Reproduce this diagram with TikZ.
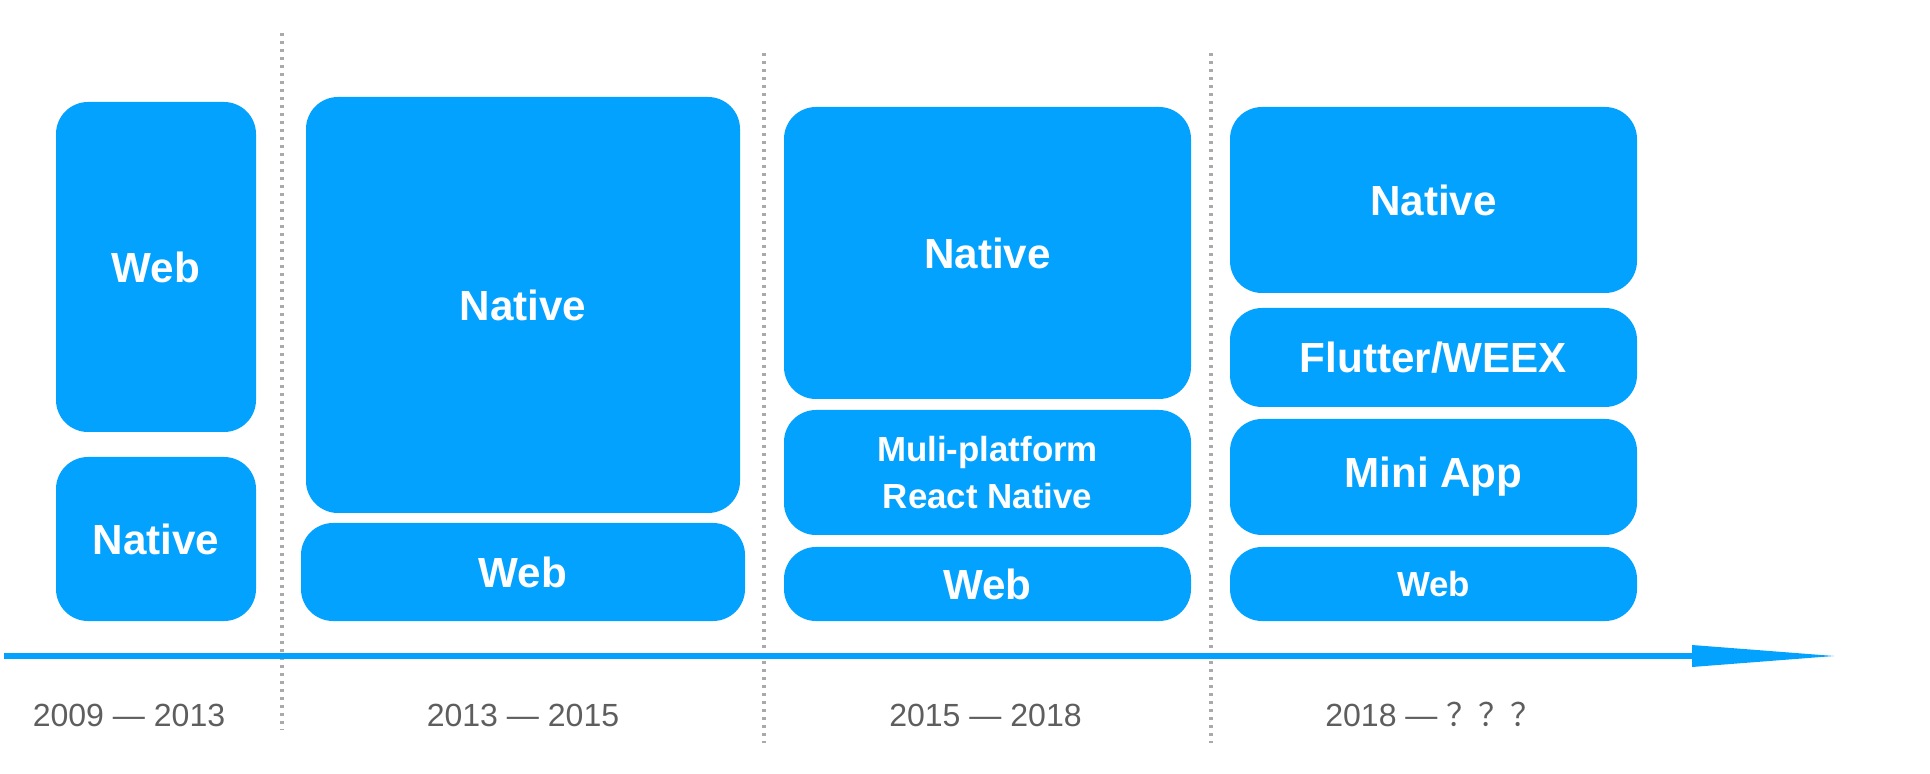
\documentclass[tikz,border=0pt]{standalone}
\usepackage{fontspec}
\setmainfont{Liberation Sans}
\newfontfamily\cjkfont{Noto Sans CJK SC}
\definecolor{appblue}{RGB}{3,162,254}
\definecolor{sepgray}{RGB}{170,170,170}
\definecolor{yeargray}{RGB}{94,94,94}

\begin{document}
\begin{tikzpicture}[line join=round,
    box/.style={fill=appblue, text=white, rounded corners=0.8cm, inner sep=0pt,
      align=center, font=\bfseries\fontsize{30}{36}\selectfont},
    smallbox/.style={box, font=\bfseries\fontsize{24.8}{33.4}\selectfont},
    sep/.style={sepgray, line width=2.35pt, dash pattern=on 2.35pt off 3.34pt},
    year/.style={yeargray, anchor=base, inner sep=0pt, font=\fontsize{22.8}{27}\selectfont}]
  \useasboundingbox (0,0) rectangle (48.25,-19.35);
  % 2009 -- 2013
  \begin{scope}[xshift=3.9cm]
    \node[box, minimum width=5cm, minimum height=8.25cm] (aWeb) at (0,-6.675) {Web};
    \node[box, minimum width=5cm, minimum height=4.1cm] (aNat) at (0,-13.475) {Native};
    \node[year] (aYear) at (-0.675,-18.15) {2009 — 2013};
  \end{scope}
  % 2013 -- 2015
  \begin{scope}[xshift=13.075cm]
    \node[box, minimum width=10.85cm, minimum height=10.4cm] (bNat) at (0,-7.625) {Native};
    \node[box, minimum width=11.1cm, minimum height=2.45cm] (bWeb) at (0,-14.3) {Web};
    \node[year] (bYear) at (0,-18.15) {2013 — 2015};
  \end{scope}
  % 2015 -- 2018
  \begin{scope}[xshift=24.6875cm]
    \node[box, minimum width=10.175cm, minimum height=7.3cm] (cNat) at (0,-6.325) {Native};
    \node[smallbox, minimum width=10.175cm, minimum height=3.125cm] (cMulti) at (0,-11.8125) {Muli-platform\\React Native};
    \node[box, minimum width=10.175cm, minimum height=1.85cm] (cWeb) at (0,-14.6) {Web};
    \node[year] (cYear) at (-0.05,-18.15) {2015 — 2018};
  \end{scope}
  % 2018 -- ???
  \begin{scope}[xshift=35.8375cm]
    \node[box, minimum width=10.175cm, minimum height=4.65cm] (dNat) at (0,-5.0) {Native};
    \node[box, minimum width=10.175cm, minimum height=2.475cm] (dFlut) at (0,-8.9375) {Flutter/WEEX};
    \node[box, minimum width=10.175cm, minimum height=2.9cm] (dMini) at (0,-11.925) {Mini App};
    \node[smallbox, minimum width=10.175cm, minimum height=1.85cm] (dWeb) at (0,-14.6) {Web};
    \node[year, anchor=base west] (dYear) at (-2.7125,-18.15) {2018 — {\cjkfont ？？？}};
  \end{scope}
  % separators
  \coordinate (s1t) at (7.05,-0.825);  \coordinate (s1b) at (7.05,-18.25);
  \coordinate (s2t) at (19.1,-1.325);  \coordinate (s2b) at (19.1,-18.575);
  \coordinate (s3t) at (30.275,-1.325); \coordinate (s3b) at (30.275,-18.575);
  \draw[sep] (s1t) -- (s1b);
  \draw[sep] (s2t) -- (s2b);
  \draw[sep] (s3t) -- (s3b);
  % time axis
  \coordinate (tS) at (0.1,-16.4);
  \coordinate (tH) at (42.3,-16.4);
  \coordinate (tE) at (45.85,-16.4);
  \draw[appblue, line width=4.27pt] (tS) -- (tH);
  \fill[appblue] ([yshift=0.275cm]tH) -- (tE) -- ([yshift=-0.275cm]tH) -- cycle;
\end{tikzpicture}
\end{document}
